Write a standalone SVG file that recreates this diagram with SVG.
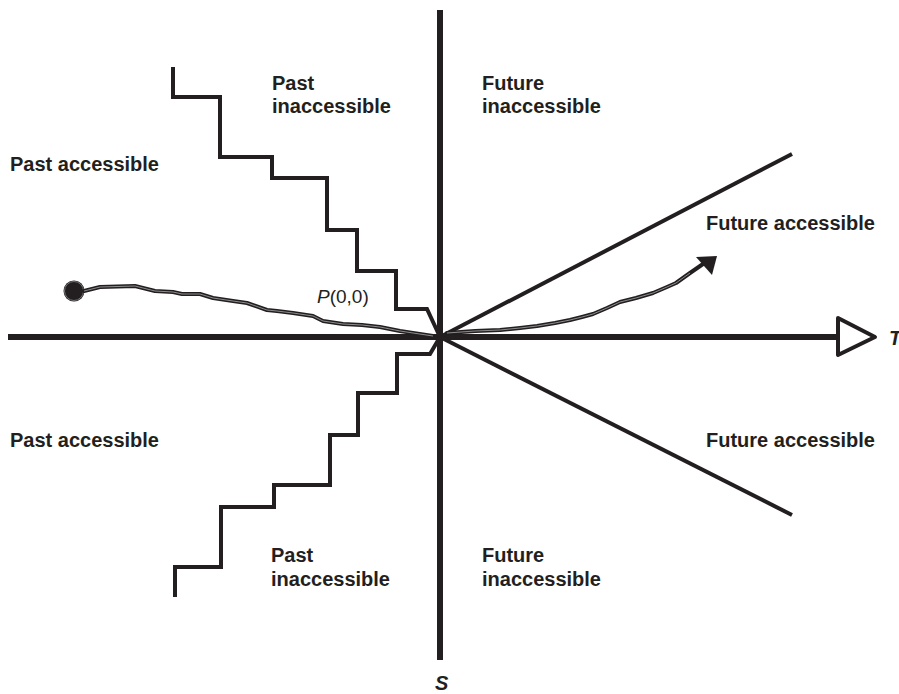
<svg xmlns="http://www.w3.org/2000/svg" width="899" height="694" viewBox="0 0 899 694">
  <style>
    .lbl { font-family: "Liberation Sans", Arial, sans-serif; font-size: 20px; font-weight: bold; fill: #231f20; }
    .ax { font-family: "Liberation Sans", Arial, sans-serif; font-size: 20px; font-weight: bold; font-style: italic; fill: #231f20; }
    .pt { font-family: "Liberation Sans", Arial, sans-serif; font-size: 19px; fill: #231f20; }
    .axis { stroke: #231f20; stroke-width: 6; fill: none; }
    .bound { stroke: #231f20; stroke-width: 4; fill: none; stroke-linejoin: miter; }
    .path-outer { stroke: #231f20; stroke-width: 4; fill: none; stroke-linejoin: round; stroke-linecap: round; }
    .path-inner { stroke: #9a9a9a; stroke-width: 0.9; fill: none; stroke-linejoin: round; }
  </style>
  <rect width="899" height="694" fill="#ffffff"/>

  <!-- axes and boundaries -->
  <g id="connectors">
    <line class="axis" x1="440" y1="10" x2="440" y2="660"/>
    <line class="axis" x1="8" y1="337" x2="838" y2="337"/>
    <polygon points="838,318 875,337 838,355" fill="#ffffff" stroke="#231f20" stroke-width="4" stroke-linejoin="round"/>

    <!-- light-cone boundaries, future side -->
    <line class="bound" x1="440" y1="337" x2="792" y2="154"/>
    <line class="bound" x1="440" y1="337" x2="792" y2="515"/>

    <!-- staircase boundaries, past side -->
    <polyline class="bound" points="173,67 173,97 220,97 220,157 272,157 272,155 272,178 327,178 327,230 357,230 357,271 396,271 396,309 427,309 440,337"/>
    <polyline class="bound" points="175,597 175,567 221,567 221,507 274,507 274,485 330,485 330,435 358,435 358,393 397,393 397,354 430,354 440,337"/>

    <!-- past trajectory -->
    <circle cx="74" cy="291" r="10.5" fill="#231f20"/>
    <circle cx="74" cy="291" r="9.5" fill="none" stroke="#8a8a8a" stroke-width="0.8"/>
    <polyline class="path-outer" points="84,291 100,287 135,286 155,291 173,292 182,294 200,294 213,298 233,301 247,303 267,310 277,311 293,313 313,316 323,321 343,324 362,325 380,327 400,331 413,333 433,336"/>
    <polyline class="path-inner" points="84,291 100,287 135,286 155,291 173,292 182,294 200,294 213,298 233,301 247,303 267,310 277,311 293,313 313,316 323,321 343,324 362,325 380,327 400,331 413,333 433,336"/>

    <!-- future trajectory -->
    <polyline class="path-outer" points="447,333 475,331 500,330 520,328 537,326 555,323 570,320 582,317 593,314 607,308 620,302 636,298 653,293 667,287 676,283 683,278 690,273 703,264"/>
    <polyline class="path-inner" points="447,333 475,331 500,330 520,328 537,326 555,323 570,320 582,317 593,314 607,308 620,302 636,298 653,293 667,287 676,283 683,278 690,273"/>
    <polygon points="696,257 717,256 712,275" fill="#231f20"/>
  </g>

  <!-- region labels -->
  <g id="past-inaccessible-top">
    <text class="lbl" x="272" y="90">Past</text>
    <text class="lbl" x="272" y="113">inaccessible</text>
  </g>
  <g id="future-inaccessible-top">
    <text class="lbl" x="482" y="90">Future</text>
    <text class="lbl" x="482" y="113">inaccessible</text>
  </g>
  <g id="past-accessible-top">
    <text class="lbl" x="10" y="171">Past accessible</text>
  </g>
  <g id="future-accessible-top">
    <text class="lbl" x="706" y="230">Future accessible</text>
  </g>
  <g id="past-accessible-bottom">
    <text class="lbl" x="10" y="447">Past accessible</text>
  </g>
  <g id="future-accessible-bottom">
    <text class="lbl" x="706" y="447">Future accessible</text>
  </g>
  <g id="past-inaccessible-bottom">
    <text class="lbl" x="271" y="562">Past</text>
    <text class="lbl" x="271" y="586">inaccessible</text>
  </g>
  <g id="future-inaccessible-bottom">
    <text class="lbl" x="482" y="562">Future</text>
    <text class="lbl" x="482" y="586">inaccessible</text>
  </g>

  <!-- origin and axis names -->
  <g id="origin">
    <text class="pt" x="317" y="303"><tspan font-style="italic">P</tspan>(0,0)</text>
  </g>
  <g id="axis-t">
    <text class="ax" x="889" y="345">T</text>
  </g>
  <g id="axis-s">
    <text class="ax" x="435" y="690">S</text>
  </g>
</svg>
